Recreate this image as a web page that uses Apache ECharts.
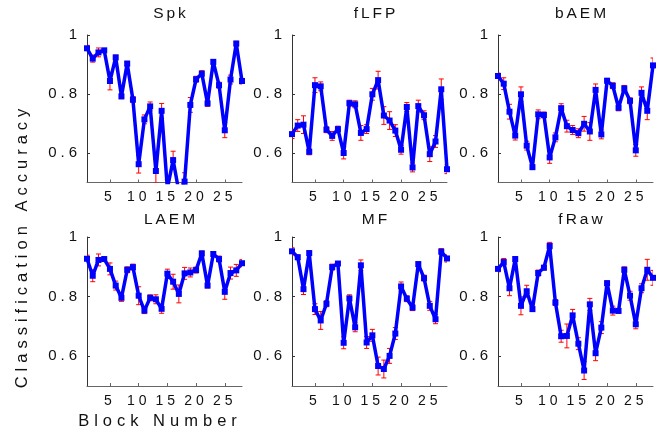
<!DOCTYPE html>
<html>
<head>
<meta charset="utf-8">
<script src="https://cdn.jsdelivr.net/npm/echarts@6/dist/echarts.min.js"></script>
<style>
  html, body { margin: 0; padding: 0; background: #fff; }
  #chart { width: 672px; height: 432px; }
</style>
</head>
<body>
<div id="chart"></div>
<script>
// Block numbers 1..28
const blocks = [1,2,3,4,5,6,7,8,9,10,11,12,13,14,15,16,17,18,19,20,21,22,23,24,25,26,27,28];
const xTicks = [5, 10, 15, 20, 25];
const yTicks = [0.6, 0.8, 1];
const panelNames = ['Spk', 'fLFP', 'bAEM', 'LAEM', 'MF', 'fRaw'];

const spkMean = [0.955,0.92,0.941,0.948,0.844,0.924,0.792,0.903,0.781,0.562,0.714,0.758,0.539,0.743,0.48,0.576,0.47,0.503,0.763,0.85,0.869,0.768,0.909,0.83,0.677,0.849,0.971,0.844];
const spkErr  = [0.01,0.012,0.015,0.005,0.03,0.008,0.008,0.008,0.01,0.03,0.015,0.015,0.04,0.025,0.03,0.03,0.03,0.03,0.025,0.01,0.01,0.01,0.008,0.01,0.025,0.015,0.008,0.01];

const flfpMean = [0.664,0.693,0.696,0.604,0.83,0.826,0.679,0.658,0.681,0.6,0.769,0.765,0.668,0.681,0.799,0.847,0.727,0.71,0.676,0.611,0.756,0.551,0.759,0.728,0.596,0.639,0.816,0.545];
const flfpErr  = [0.015,0.02,0.03,0.01,0.025,0.015,0.01,0.015,0.01,0.02,0.01,0.012,0.025,0.015,0.02,0.03,0.03,0.03,0.02,0.015,0.015,0.015,0.02,0.015,0.025,0.02,0.035,0.015];

const baemMean = [0.861,0.835,0.74,0.659,0.799,0.625,0.552,0.731,0.729,0.585,0.653,0.752,0.691,0.678,0.667,0.699,0.673,0.814,0.663,0.845,0.828,0.753,0.819,0.777,0.609,0.804,0.743,0.897];
const baemErr  = [0.01,0.02,0.025,0.015,0.025,0.015,0.008,0.015,0.01,0.02,0.015,0.015,0.02,0.015,0.015,0.025,0.03,0.02,0.015,0.008,0.01,0.01,0.01,0.01,0.02,0.02,0.03,0.025];

const laemMean = [0.927,0.87,0.923,0.926,0.893,0.837,0.796,0.89,0.899,0.803,0.753,0.796,0.791,0.759,0.877,0.85,0.809,0.878,0.881,0.889,0.945,0.837,0.943,0.926,0.816,0.879,0.888,0.912];
const laemErr  = [0.012,0.02,0.02,0.008,0.02,0.015,0.012,0.01,0.01,0.03,0.01,0.01,0.015,0.015,0.015,0.025,0.03,0.02,0.015,0.01,0.008,0.008,0.008,0.01,0.025,0.02,0.02,0.012];

const mfMean = [0.952,0.932,0.825,0.946,0.758,0.72,0.776,0.899,0.911,0.645,0.794,0.697,0.905,0.646,0.67,0.567,0.557,0.601,0.676,0.834,0.793,0.763,0.909,0.862,0.769,0.724,0.951,0.928];
const mfErr  = [0.012,0.008,0.018,0.008,0.018,0.03,0.01,0.01,0.005,0.02,0.012,0.015,0.018,0.02,0.02,0.03,0.03,0.025,0.02,0.015,0.01,0.01,0.008,0.01,0.015,0.015,0.01,0.012];

const frawMean = [0.893,0.916,0.828,0.926,0.769,0.818,0.758,0.879,0.897,0.97,0.78,0.667,0.668,0.737,0.642,0.552,0.774,0.61,0.696,0.845,0.753,0.752,0.89,0.803,0.707,0.828,0.89,0.863];
const frawErr  = [0.01,0.012,0.025,0.008,0.03,0.02,0.008,0.01,0.008,0.012,0.01,0.02,0.04,0.02,0.02,0.03,0.02,0.025,0.02,0.008,0.015,0.008,0.01,0.015,0.015,0.015,0.035,0.025];

const means = [spkMean, flfpMean, baemMean, laemMean, mfMean, frawMean];
const errs = [spkErr, flfpErr, baemErr, laemErr, mfErr, frawErr];

// panel layout (pixels)
const colLeft = [87, 292, 498];
const rowTop = [35, 237];
const plotW = 155;
const plotH = [147.5, 149];
const FONT = '"Liberation Sans", Arial, sans-serif';

// MATLAB export spreads its letters out; zrender has no letterSpacing option,
// so set it on the 2d context right before each text draw (keyed on font size)
const origFillText = CanvasRenderingContext2D.prototype.fillText;
CanvasRenderingContext2D.prototype.fillText = function (...args) {
  const f = this.font;
  if (f.indexOf('16.5px') >= 0) this.letterSpacing = '5px';
  else if (f.indexOf('15.5px') >= 0) this.letterSpacing = '3px';
  else this.letterSpacing = '4px';
  return origFillText.apply(this, args);
};

const chart = echarts.init(document.getElementById('chart'), null, { renderer: 'canvas' });

const grids = [], xAxes = [], yAxes = [], series = [], titles = [];

panelNames.forEach((name, i) => {
  const r = Math.floor(i / 3), c = i % 3;
  grids.push({ left: colLeft[c], top: rowTop[r], width: plotW, height: plotH[r], containLabel: false });
  titles.push({
    text: name,
    left: colLeft[c] + plotW / 2 + 1.5,
    top: r === 0 ? 1 : 207,
    textAlign: 'center',
    textStyle: { fontFamily: FONT, fontSize: 15.5, fontWeight: 'normal', color: '#111' }
  });
  xAxes.push({
    gridIndex: i, type: 'value', min: 1, max: 28,
    splitLine: { show: false },
    axisLine: { lineStyle: { color: '#666', width: 1 } },
    axisTick: { show: true, inside: true, length: 3, customValues: xTicks, lineStyle: { color: '#666' } },
    axisLabel: { customValues: xTicks, margin: 8, fontFamily: FONT, fontSize: 14, color: '#111' }
  });
  yAxes.push({
    gridIndex: i, type: 'value', min: 0.5, max: 1,
    splitLine: { show: false },
    axisLine: { show: true, lineStyle: { color: '#333', width: 1 } },
    axisTick: { show: true, inside: true, length: 3, customValues: yTicks, lineStyle: { color: '#333' } },
    axisLabel: {
      customValues: yTicks, margin: 6, fontFamily: FONT, fontSize: 15, color: '#111',
      formatter: v => (v === 1 ? '1' : v.toFixed(1))
    }
  });

  const m = means[i], e = errs[i];
  series.push({
    type: 'custom',
    xAxisIndex: i, yAxisIndex: i,
    z: 1,
    clip: true,
    data: blocks.map((b, k) => [b, m[k] - e[k], m[k] + e[k]]),
    renderItem: (params, api) => {
      const lo = api.coord([api.value(0), api.value(1)]);
      const hi = api.coord([api.value(0), api.value(2)]);
      const cap = 2.5;
      const style = { stroke: '#ff0000', lineWidth: 1 };
      return {
        type: 'group',
        children: [
          { type: 'line', shape: { x1: lo[0], y1: lo[1], x2: hi[0], y2: hi[1] }, style },
          { type: 'line', shape: { x1: lo[0] - cap, y1: lo[1], x2: lo[0] + cap, y2: lo[1] }, style },
          { type: 'line', shape: { x1: hi[0] - cap, y1: hi[1], x2: hi[0] + cap, y2: hi[1] }, style }
        ]
      };
    }
  });
  series.push({
    type: 'line',
    xAxisIndex: i, yAxisIndex: i,
    z: 3,
    data: blocks.map((b, k) => [b, m[k]]),
    symbol: 'rect', symbolSize: 6,
    showSymbol: true,
    lineStyle: { color: '#0000ff', width: 3.5 },
    itemStyle: { color: '#0000ff' },
    animation: false
  });
});

chart.setOption({
  animation: false,
  backgroundColor: '#ffffff',
  title: titles,
  grid: grids,
  xAxis: xAxes,
  yAxis: yAxes,
  series: series,
  graphic: [
    {
      type: 'text', x: 22, y: 246, rotation: Math.PI / 2,
      style: { text: 'Classification Accuracy', fontFamily: FONT, fontSize: 16.5, fill: '#111', align: 'center', verticalAlign: 'middle' }
    },
    {
      type: 'text', x: 160, y: 421,
      style: { text: 'Block Number', fontFamily: FONT, fontSize: 16.5, fill: '#111', align: 'center', verticalAlign: 'middle' }
    }
  ]
});
</script>
</body>
</html>
